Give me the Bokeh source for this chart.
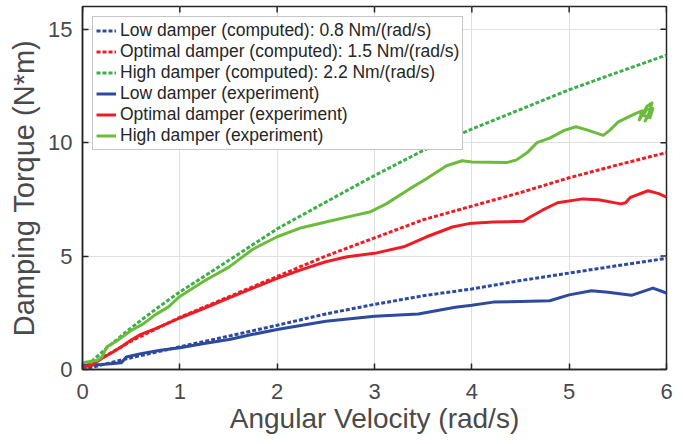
import math
from bokeh.plotting import figure
from bokeh.models import Range1d, FixedTicker, Legend, LegendItem
from bokeh.embed import file_html
from bokeh.resources import INLINE

# ---- data ----
low_comp_x = [0, 0.5, 1, 1.5, 2, 2.5, 3, 3.5, 4, 4.5, 5, 5.5, 6]
low_comp_y = [0, 0.52, 1.0, 1.47, 1.95, 2.45, 2.87, 3.25, 3.55, 3.92, 4.25, 4.58, 4.9]

opt_comp_x = [0, 0.5, 1, 1.5, 2, 2.5, 3, 3.5, 4, 4.5, 5, 5.5, 6]
opt_comp_y = [0, 1.25, 2.3, 3.2, 4.1, 5.0, 5.8, 6.6, 7.2, 7.8, 8.45, 9.02, 9.56]

high_comp_x = [0, 0.25, 0.5, 0.75, 1, 1.5, 2, 2.5, 3, 3.5, 4, 4.5, 5, 5.5, 6]
high_comp_y = [0, 0.95, 1.84, 2.65, 3.42, 4.8, 6.2, 7.38, 8.55, 9.65, 10.6, 11.46, 12.33, 13.1, 13.86]

low_exp_x = [0, 0.2, 0.4, 0.45, 0.6, 0.8, 1.0, 1.25, 1.52, 1.75, 2.0, 2.5, 3.0, 3.45,
             3.83, 4.0, 4.22, 4.5, 4.8, 5.0, 5.23, 5.4, 5.64, 5.86, 5.95, 6.0]
low_exp_y = [0.18, 0.22, 0.3, 0.55, 0.7, 0.85, 0.96, 1.15, 1.33, 1.55, 1.76, 2.13, 2.35, 2.45,
             2.74, 2.83, 2.97, 3.0, 3.03, 3.29, 3.47, 3.4, 3.27, 3.59, 3.45, 3.37]

opt_exp_x = [0, 0.1, 0.2, 0.3, 0.4, 0.5, 0.6, 0.75, 1.0, 1.25, 1.5, 1.75, 2.0, 2.25, 2.5,
             2.72, 3.0, 3.3, 3.53, 3.8, 3.97, 4.22, 4.53, 4.6, 4.72, 4.88, 5.14, 5.3, 5.53,
             5.58, 5.63, 5.81, 5.92, 6.0]
opt_exp_y = [0.1, 0.2, 0.5, 0.74, 1.0, 1.3, 1.55, 1.8, 2.27, 2.7, 3.15, 3.59, 4.02, 4.4, 4.75,
             4.97, 5.12, 5.41, 5.84, 6.28, 6.43, 6.5, 6.53, 6.72, 7.01, 7.35, 7.52, 7.48, 7.3,
             7.35, 7.59, 7.88, 7.75, 7.6]

high_exp_x = [0, 0.08, 0.15, 0.2, 0.25, 0.35, 0.5, 0.62, 0.75, 0.88, 1.0, 1.25, 1.5, 1.75,
              2.0, 2.25, 2.5, 2.75, 2.95, 3.12, 3.36, 3.53, 3.74, 3.9, 4.0, 4.36, 4.46, 4.57,
              4.67, 4.8, 4.95, 5.07, 5.19, 5.35, 5.42, 5.5, 5.68, 5.75, 5.72, 5.8, 5.85, 5.82,
              5.78, 5.86, 5.83, 5.76, 5.81]
high_exp_y = [0.3, 0.35, 0.4, 0.55, 1.0, 1.25, 1.72, 2.0, 2.42, 2.75, 3.22, 3.9, 4.5, 5.3,
              5.85, 6.25, 6.5, 6.75, 6.94, 7.3, 7.96, 8.4, 8.98, 9.2, 9.15, 9.12, 9.24, 9.56,
              10.0, 10.2, 10.54, 10.7, 10.55, 10.32, 10.55, 10.9, 11.28, 11.4, 11.0, 11.6, 11.75,
              11.3, 10.95, 11.5, 11.1, 11.2, 11.55]

x_ticks = [0, 1, 2, 3, 4, 5, 6]
y_ticks = [0, 5, 10, 15]
X_MAX = 6
Y_MAX = 16

labels = [
    "Low damper (computed): 0.8 Nm/(rad/s)",
    "Optimal damper (computed): 1.5 Nm/(rad/s)",
    "High damper (computed): 2.2 Nm/(rad/s)",
    "Low damper (experiment)",
    "Optimal damper (experiment)",
    "High damper (experiment)",
]

BLUE = "#2e4a9e"
RED = "#ee1d25"
GREEN_C = "#3dae4a"
GREEN_E = "#6cbb3c"
FONT = "Liberation Sans"
AXC = "#262626"
TXT = "#4a4a4a"

p = figure(width=678, height=436, output_backend="svg", toolbar_location=None,
           x_range=Range1d(0, X_MAX), y_range=Range1d(0, Y_MAX),
           min_border_left=82, min_border_right=12, min_border_top=6, min_border_bottom=67)

p.outline_line_color = AXC
p.outline_line_width = 1.5
p.background_fill_color = "white"
p.border_fill_color = "white"

for ax in (p.xaxis[0], p.yaxis[0]):
    ax.axis_line_color = AXC
    ax.axis_line_width = 1.5
    ax.major_tick_line_color = AXC
    ax.major_tick_line_width = 1.5
    ax.major_tick_in = 6
    ax.major_tick_out = 0
    ax.minor_tick_line_color = None
    ax.major_label_text_font = FONT
    ax.major_label_text_font_size = "22px"
    ax.major_label_text_color = TXT
    ax.axis_label_text_font = FONT
    ax.axis_label_text_font_style = "normal"
    ax.axis_label_text_color = TXT

p.xaxis[0].axis_label_text_font_size = "28px"
p.yaxis[0].axis_label_text_font_size = "29px"
p.xaxis[0].ticker = FixedTicker(ticks=x_ticks)
p.yaxis[0].ticker = FixedTicker(ticks=y_ticks)
p.xaxis[0].axis_label = "Angular Velocity (rad/s)"
p.yaxis[0].axis_label = "Damping Torque (N*m)"
p.xaxis[0].major_label_standoff = 14
p.yaxis[0].major_label_standoff = 10
p.xaxis[0].axis_label_standoff = 1
p.yaxis[0].axis_label_standoff = 5

p.xgrid.ticker = FixedTicker(ticks=x_ticks)
p.ygrid.ticker = FixedTicker(ticks=y_ticks)
p.grid.grid_line_color = "#e0e0e0"
p.grid.grid_line_width = 1

# inward ticks on the top and right edges of the box
p.scatter(x_ticks, [Y_MAX] * len(x_ticks), marker="dash", size=12, angle=math.pi / 2,
          line_color=AXC, line_width=1.5)
p.scatter([X_MAX] * len(y_ticks), y_ticks, marker="dash", size=12,
          line_color=AXC, line_width=1.5)

dash = "4 2"
r1 = p.line(low_comp_x, low_comp_y, line_color=BLUE, line_width=3, line_dash=dash)
r2 = p.line(opt_comp_x, opt_comp_y, line_color=RED, line_width=3, line_dash=dash)
r3 = p.line(high_comp_x, high_comp_y, line_color=GREEN_C, line_width=3, line_dash=dash)
r4 = p.line(low_exp_x, low_exp_y, line_color=BLUE, line_width=3, line_join="round")
r5 = p.line(opt_exp_x, opt_exp_y, line_color=RED, line_width=3, line_join="round")
r6 = p.line(high_exp_x, high_exp_y, line_color=GREEN_E, line_width=3, line_join="round")

legend = Legend(items=[LegendItem(label=l, renderers=[r]) for l, r in
                       zip(labels, [r1, r2, r3, r4, r5, r6])],
                location="top_left")
legend.margin = 10
legend.padding = 3
legend.spacing = 0
legend.glyph_width = 20
legend.glyph_height = 21
legend.label_height = 21
legend.label_width = 336
legend.label_standoff = 4
legend.label_text_font = FONT
legend.label_text_font_size = "17.5px"
legend.label_text_color = "#262626"
legend.border_line_color = "#8c8c8c"
legend.border_line_width = 1
legend.background_fill_alpha = 1
p.add_layout(legend, "center")

open("out.html", "w").write(file_html(p, INLINE))
